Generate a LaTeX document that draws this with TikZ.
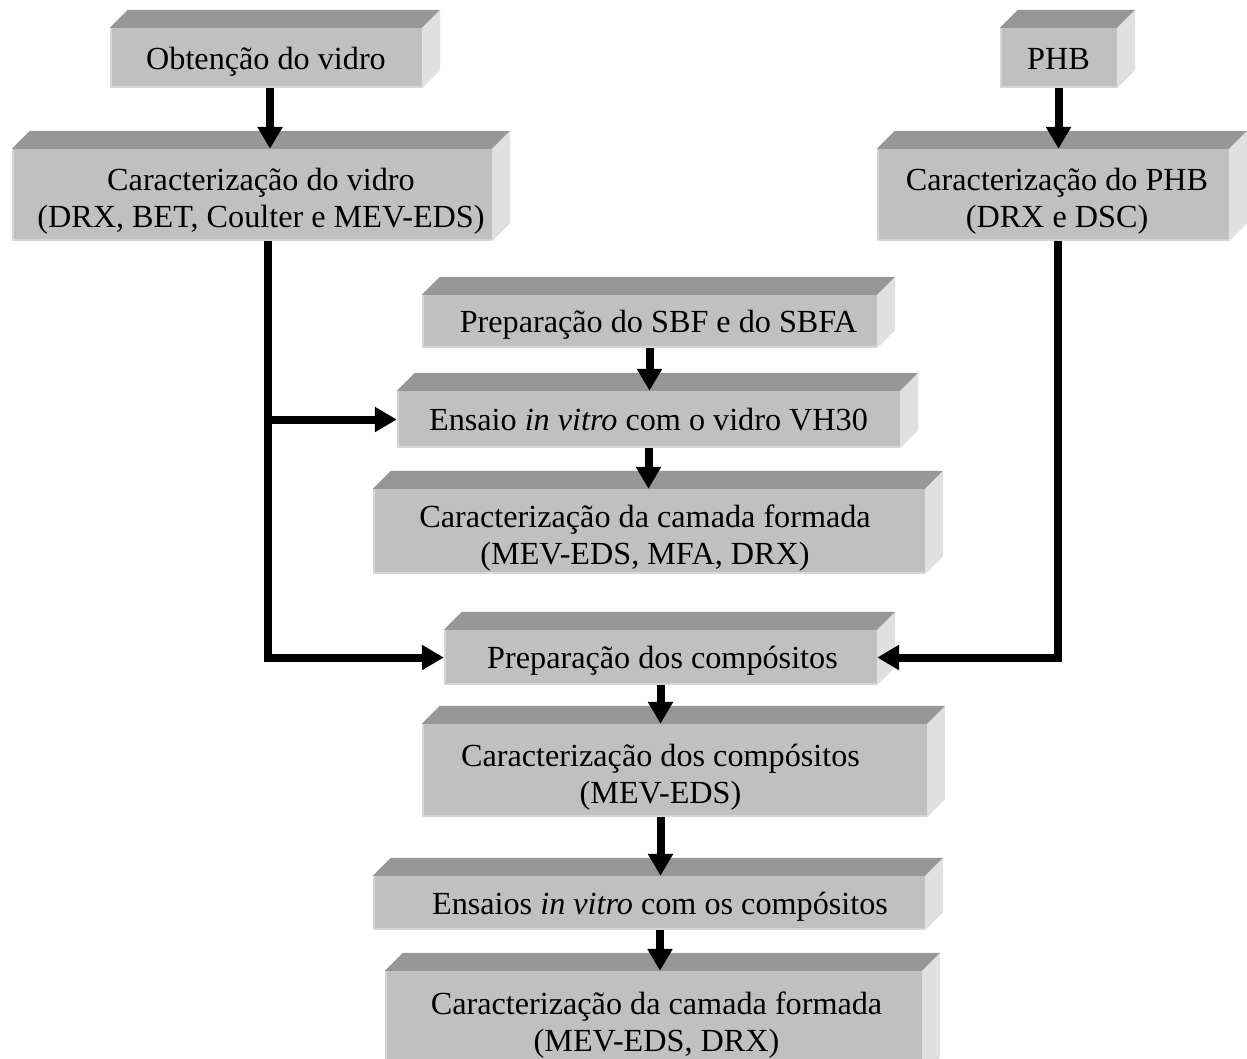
\documentclass[tikz,border=0pt]{standalone}
\usepackage{fontspec}
\setmainfont{Liberation Serif}
\usetikzlibrary{arrows.meta}

\definecolor{slabfront}{HTML}{C0C0C0}
\definecolor{slabtop}{HTML}{979797}
\definecolor{slabside}{HTML}{E0E0E0}
\definecolor{slabedge}{HTML}{D6D6D6}

\tikzset{
  slab/.style={rectangle, fill=slabfront, inner sep=0pt},
  slabtxt/.style={inner sep=0pt, font=\fontsize{32.2}{37}\selectfont},
  flow/.style={line width=8pt, line join=miter,
    -{Triangle[width=24pt,length=22pt]}},
}

% centred block of lines
\newcommand\tallstack[1]{\begin{tabular}{@{}c@{}}#1\end{tabular}}

% top and right faces of a bevelled slab node, with a light lower/left rim
\newcommand\slabfaces[1]{%
  \fill[slabtop] (#1.north west) -- ++(18,-18)
    -- ([xshift=18pt,yshift=18pt]#1.north east) -- (#1.north east) -- cycle;
  \fill[slabside] (#1.north east) -- ++(18,-18)
    -- ([xshift=18pt,yshift=18pt]#1.south east) -- (#1.south east) -- cycle;
  \draw[slabedge, line width=2pt] ([yshift=1pt]#1.south east)
    -- ([xshift=1pt,yshift=1pt]#1.south west) -- ([xshift=1pt]#1.north west);
}

\begin{document}
\begin{tikzpicture}[x=1pt,y=-1pt]
\useasboundingbox (0,0) rectangle (1247,1058);
\clip (0,0) rectangle (1247,1058);

% front faces
\node[slab, minimum width=312pt, minimum height=60pt]  (A) at (266,58) {};
\node[slab, minimum width=117pt, minimum height=60pt]  (B) at (1058.5,58) {};
\node[slab, minimum width=480pt, minimum height=92pt]  (C) at (252,195) {};
\node[slab, minimum width=352pt, minimum height=92pt]  (D) at (1053,195) {};
\node[slab, minimum width=455pt, minimum height=53pt]  (E) at (649.5,321.5) {};
\node[slab, minimum width=503pt, minimum height=57pt]  (F) at (648.5,419.5) {};
\node[slab, minimum width=552pt, minimum height=85pt]  (G) at (649,531.5) {};
\node[slab, minimum width=433pt, minimum height=55pt]  (H) at (660.5,657.5) {};
\node[slab, minimum width=505pt, minimum height=93pt]  (I) at (674.5,770.5) {};
\node[slab, minimum width=552pt, minimum height=54pt]  (J) at (649,903) {};
\node[slab, minimum width=537pt, minimum height=104pt] (K) at (653.5,1023) {};

\foreach \n in {A,B,C,D,E,F,G,H,I,J,K} {\slabfaces{\n}}

% texts
\node[slabtxt] (At) at ([yshift=-4pt]A.center) {\tallstack{Obtenção do vidro}};
\node[slabtxt] (Bt) at ([yshift=-4pt]B.center) {\tallstack{PHB}};
\node[slabtxt] (Ct) at ([xshift=9pt,yshift=-7pt]C.center)
  {\tallstack{Caracterização do vidro\\(DRX, BET, Coulter e MEV-EDS)}};
\node[slabtxt] (Dt) at ([xshift=4pt,yshift=-7pt]D.center)
  {\tallstack{Caracterização do PHB\\(DRX e DSC)}};
\node[slabtxt] (Et) at ([xshift=9pt,yshift=-4pt]E.center) {\tallstack{Preparação do SBF e do SBFA}};
\node[slabtxt] (Ft) at ([yshift=-4pt]F.center)
  {\tallstack{Ensaio \textit{in vitro} com o vidro VH30}};
\node[slabtxt] (Gt) at ([xshift=-4pt,yshift=-7pt]G.center)
  {\tallstack{Caracterização da camada formada\\(MEV-EDS, MFA, DRX)}};
\node[slabtxt] (Ht) at ([xshift=2pt,yshift=-4pt]H.center) {\tallstack{Preparação dos compósitos}};
\node[slabtxt] (It) at ([xshift=-14pt,yshift=-7pt]I.center)
  {\tallstack{Caracterização dos compósitos\\(MEV-EDS)}};
\node[slabtxt] (Jt) at ([xshift=11pt,yshift=-4pt]J.center)
  {\tallstack{Ensaios \textit{in vitro} com os compósitos}};
\node[slabtxt] (Kt) at ([xshift=3pt,yshift=-3pt]K.center)
  {\tallstack{Caracterização da camada formada\\(MEV-EDS, DRX)}};

% connectors
\draw[flow] ([xshift=4pt]A.south) -- ([xshift=4pt]A.south |- C.north);
\draw[flow] (B.south) -- (B.south |- D.north);
\draw[flow] ([xshift=16pt]C.south) |- (H.west);
\draw[flow] ([xshift=16pt]C.south |- F.west) -- (F.west);
\draw[flow] ([xshift=5pt]D.south) |- (H.east);
\draw[flow] (E.south) -- (E.south |- F.north);
\draw[flow] (F.south) -- (F.south |- G.north);
\draw[flow] (H.south) -- (H.south |- I.north);
\draw[flow] ([xshift=-14pt]I.south) -- ([xshift=-14pt]I.south |- J.north);
\draw[flow] ([xshift=11pt]J.south) -- ([xshift=11pt]J.south |- K.north);
\end{tikzpicture}
\end{document}
